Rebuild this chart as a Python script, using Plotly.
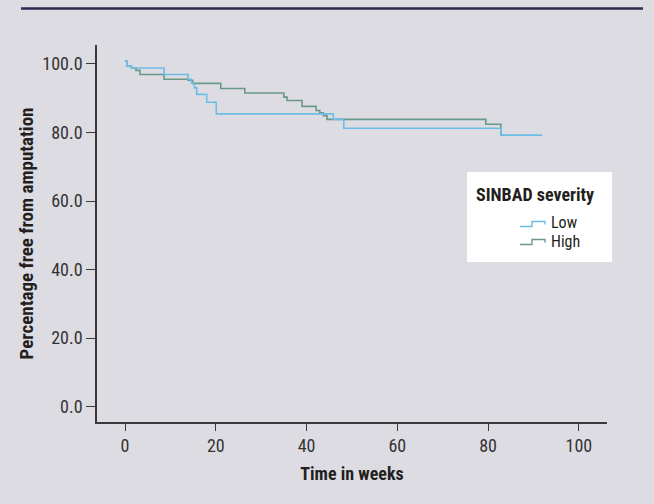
import plotly.graph_objects as go

# Kaplan-Meier curves (time in weeks, % free from amputation)
low_time = [0, 0.4, 1.4, 8.6, 13.9, 14.6, 15.3, 15.8, 18.0, 20.1, 45.9, 48.2, 82.8, 91.9]
low_value = [100.8, 99.4, 98.8, 96.9, 95.5, 94.5, 93.0, 91.1, 88.8, 85.4, 83.8, 81.2, 79.2, 79.2]

high_time = [0, 0.4, 1.4, 2.4, 3.3, 8.6, 13.9, 14.9, 21.1, 26.4, 35.0, 35.7, 39.0,
             42.1, 42.9, 43.7, 44.5, 79.5, 82.8, 83.3]
high_value = [100.8, 99.4, 98.8, 98.1, 96.9, 95.5, 95.2, 94.3, 92.8, 91.5, 90.3, 89.3, 87.6,
              86.4, 85.7, 84.9, 83.8, 82.4, 79.2, 79.2]

x_ticks = [0, 20, 40, 60, 80, 100]
y_ticks = [0, 20, 40, 60, 80, 100]

series_names = ["Low", "High"]
legend_title = "SINBAD severity"

BG = "#dedce3"
LOW_C = "#6cbde6"
HIGH_C = "#6a9886"
AX_C = "#3a3a3a"
FONT = "Liberation Sans Narrow, Arial Narrow, Roboto Condensed, Liberation Sans, sans-serif"

fig = go.Figure()
fig.add_trace(go.Scatter(x=high_time, y=high_value, mode="lines", line_shape="hv",
                         line=dict(color=HIGH_C, width=1.6), name=series_names[1],
                         showlegend=False))
fig.add_trace(go.Scatter(x=low_time, y=low_value, mode="lines", line_shape="hv",
                         line=dict(color=LOW_C, width=1.6), name=series_names[0],
                         showlegend=False))

W, H = 654, 504
L, R, T, B = 97, 47, 45, 82
PW, PH = W - L - R, H - T - B


def px(x):
    return (x - L) / PW


def py(y):
    return (H - B - y) / PH


shapes = []
# top rule of the page
shapes.append(dict(type="line", xref="paper", yref="paper",
                   x0=px(21), x1=px(643), y0=py(8.5), y1=py(8.5),
                   line=dict(color="#2b2a50", width=2.5)))
# legend box
shapes.append(dict(type="rect", xref="paper", yref="paper",
                   x0=px(467), x1=px(612), y0=py(262), y1=py(172),
                   fillcolor="white", line=dict(width=0), layer="above"))


def step_icon(yc, color):
    pts = [(520, yc + 3), (532, yc + 3), (532, yc - 2), (545, yc - 2), (545, yc + 1)]
    path = "M " + " L ".join(f"{px(a):.5f},{py(b):.5f}" for a, b in pts)
    return dict(type="path", xref="paper", yref="paper", path=path,
                line=dict(color=color, width=1.4), layer="above")


shapes.append(step_icon(223.5, LOW_C))
shapes.append(step_icon(241.5, HIGH_C))

annotations = [
    dict(text=f"<b>{legend_title}</b>", xref="paper", yref="paper",
         x=px(474), y=py(194), xanchor="left", yanchor="middle", showarrow=False,
         font=dict(family=FONT, size=18, color="#231f20")),
    dict(text=series_names[0], xref="paper", yref="paper",
         x=px(550), y=py(222.5), xanchor="left", yanchor="middle", showarrow=False,
         borderpad=0, font=dict(family=FONT, size=16, color="#231f20")),
    dict(text=series_names[1], xref="paper", yref="paper",
         x=px(550), y=py(241), xanchor="left", yanchor="middle", showarrow=False,
         borderpad=0, font=dict(family=FONT, size=16, color="#231f20")),
]

fig.update_layout(
    width=W, height=H,
    margin=dict(l=L, r=R, t=T, b=B, autoexpand=False),
    paper_bgcolor=BG, plot_bgcolor=BG,
    font=dict(family=FONT, size=18, color="#333333"),
    shapes=shapes, annotations=annotations,
    showlegend=False,
)
fig.update_xaxes(
    range=[-6.17, 106.2], tickvals=x_ticks, ticktext=[str(v) for v in x_ticks],
    showgrid=False, zeroline=False, showline=True, linecolor=AX_C, linewidth=1.5,
    ticks="outside", ticklen=7, tickwidth=1.3, tickcolor=AX_C,
    title=dict(text="<b>Time in weeks</b>", standoff=12,
               font=dict(family=FONT, size=18, color="#231f20")),
)
fig.update_yaxes(
    range=[-4.46, 105.5], tickvals=y_ticks, ticktext=[f"{v:.1f}" for v in y_ticks],
    showgrid=False, zeroline=False, showline=True, linecolor=AX_C, linewidth=1.5,
    ticks="outside", ticklen=9, tickwidth=1.3, tickcolor=AX_C,
    title=dict(text="<b>Percentage free from amputation</b>", standoff=4,
               font=dict(family=FONT, size=19, color="#231f20")),
)

fig.write_html(
    "out.html",
    config={"displayModeBar": False},
    post_script="document.body.style.margin='0px';document.body.style.padding='0px';"
                "document.body.style.overflow='hidden';",
)
